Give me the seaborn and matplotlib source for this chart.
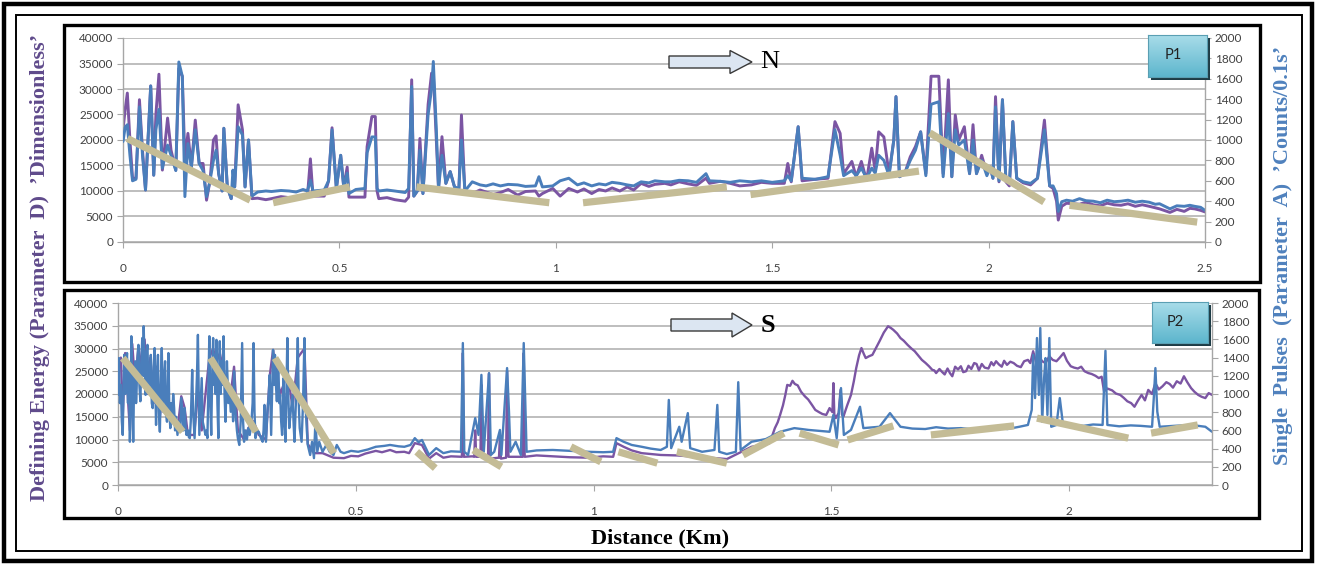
import matplotlib
matplotlib.use("Agg")
import matplotlib.pyplot as plt
import seaborn as sns
import numpy as np
from matplotlib.patches import Rectangle, Polygon
from matplotlib.colors import LinearSegmentedColormap

# ---------------- data ----------------
# Panel P1 (top): distance (km), Parameter D (left axis), Parameter A counts (right axis)
p1_km = [0.000, 0.005, 0.010, 0.016, 0.022, 0.030, 0.038, 0.045, 0.052, 0.064, 0.071, 0.076, 0.083, 0.091,
         0.103, 0.111, 0.122, 0.129, 0.137, 0.143, 0.150, 0.158, 0.167, 0.176, 0.185, 0.193, 0.201, 0.209,
         0.215, 0.221, 0.229, 0.233, 0.241, 0.250, 0.254, 0.258, 0.266, 0.276, 0.282, 0.290, 0.298, 0.311,
         0.330, 0.343, 0.365, 0.384, 0.400, 0.416, 0.426, 0.433, 0.439, 0.465, 0.475, 0.483, 0.493, 0.503,
         0.510, 0.518, 0.522, 0.538, 0.559, 0.564, 0.575, 0.583, 0.587, 0.591, 0.610, 0.628, 0.652, 0.660,
         0.667, 0.672, 0.680, 0.686, 0.693, 0.705, 0.713, 0.717, 0.724, 0.729, 0.737, 0.746, 0.756, 0.766,
         0.776, 0.782, 0.790, 0.807, 0.825, 0.839, 0.855, 0.872, 0.890, 0.912, 0.930, 0.953, 0.961, 0.969,
         0.993, 1.010, 1.030, 1.050, 1.065, 1.083, 1.100, 1.115, 1.130, 1.148, 1.165, 1.180, 1.197, 1.215,
         1.229, 1.252, 1.266, 1.285, 1.306, 1.325, 1.347, 1.355, 1.380, 1.403, 1.425, 1.452, 1.475, 1.500,
         1.528, 1.536, 1.544, 1.560, 1.569, 1.600, 1.629, 1.645, 1.657, 1.665, 1.684, 1.694, 1.706, 1.718,
         1.730, 1.738, 1.746, 1.758, 1.770, 1.781, 1.786, 1.794, 1.806, 1.819, 1.831, 1.843, 1.855, 1.867,
         1.885, 1.895, 1.907, 1.915, 1.923, 1.931, 1.944, 1.956, 1.964, 1.972, 1.984, 1.996, 2.004, 2.010,
         2.016, 2.024, 2.032, 2.040, 2.048, 2.056, 2.065, 2.080, 2.097, 2.113, 2.129, 2.141, 2.149, 2.157,
         2.161, 2.169, 2.180, 2.194, 2.210, 2.225, 2.242, 2.258, 2.274, 2.290, 2.306, 2.322, 2.339, 2.355,
         2.371, 2.385, 2.395, 2.419, 2.435, 2.452, 2.465, 2.476, 2.490, 2.500]
p1_param_d = [22000, 26000, 29200, 20000, 12500, 12500, 27900, 18000, 10200, 30600, 13100, 25000, 32900, 14100,
              24300, 18000, 14100, 34000, 32500, 16000, 21300, 14700, 23900, 15400, 15400, 8200, 12000, 20000,
              20800, 13400, 10000, 22300, 10800, 8500, 12000, 10800, 26900, 22000, 10800, 20000, 8500, 8600,
              8300, 8500, 8900, 8700, 8400, 8700, 8800, 16300, 9000, 9000, 12000, 22400, 10500, 17000,
              10800, 14700, 8800, 8800, 8800, 18700, 24600, 24600, 10000, 8500, 8700, 8300, 8000, 8800,
              31800, 9000, 10000, 20300, 9500, 27000, 33100, 33000, 20000, 10500, 20650, 11500, 13800, 10800,
              10000, 24900, 9800, 9500, 10200, 9800, 9300, 9700, 10300, 9200, 9900, 10000, 9000, 9500,
              10500, 9000, 10500, 9800, 10400, 9500, 10300, 10000, 10600, 10000, 10800, 10200, 11500, 10900,
              11300, 11500, 11200, 11800, 11400, 11100, 12500, 11500, 11900, 11500, 11000, 11200, 11700, 11500,
              11500, 15400, 11800, 22600, 12000, 12300, 12500, 23600, 21300, 13400, 15800, 12800, 15800, 12100,
              18400, 14000, 21600, 20600, 13400, 20000, 28500, 12800, 13400, 16700, 18700, 21600, 13400, 32500,
              32500, 13400, 31800, 12800, 24900, 20000, 22600, 13400, 23000, 13400, 17000, 13400, 14700, 12500,
              28500, 11800, 27900, 11800, 11000, 23600, 12500, 11600, 11200, 12500, 23900, 11000, 10500, 8000,
              4300, 7000, 7600, 7500, 7400, 7800, 7300, 7100, 7600, 7300, 7200, 7500, 7000, 7300,
              7000, 6700, 6500, 5800, 6400, 6000, 6600, 6500, 6200, 5900]
p1_param_a = [985, 1125, 1150, 850, 600, 615, 1325, 850, 510, 1530, 655, 1100, 1300, 725,
              950, 850, 700, 1765, 1625, 445, 965, 735, 1100, 770, 700, 445, 600, 800,
              900, 670, 500, 1115, 540, 425, 705, 540, 1130, 1050, 540, 1000, 450, 490,
              500, 495, 505, 500, 490, 515, 500, 605, 500, 510, 600, 1100, 525, 850,
              540, 675, 475, 515, 525, 875, 1030, 1030, 525, 500, 510, 500, 485, 525,
              1525, 450, 500, 900, 475, 1250, 1500, 1770, 1100, 525, 850, 575, 690, 540,
              525, 1000, 500, 590, 560, 550, 570, 550, 565, 560, 545, 550, 640, 540,
              550, 600, 625, 560, 580, 550, 570, 560, 585, 575, 560, 550, 590, 580,
              600, 590, 590, 605, 600, 585, 670, 600, 595, 585, 600, 590, 600, 585,
              600, 650, 600, 1130, 625, 615, 640, 1100, 850, 650, 700, 650, 725, 625,
              725, 675, 850, 800, 650, 1000, 1425, 640, 670, 800, 900, 1080, 650, 1350,
              1375, 640, 1260, 640, 1100, 950, 1000, 670, 1000, 670, 800, 650, 735, 625,
              1325, 600, 1395, 600, 575, 1180, 625, 590, 575, 625, 1100, 550, 550, 475,
              300, 395, 410, 400, 425, 405, 400, 385, 410, 395, 400, 410, 390, 400,
              390, 370, 375, 325, 355, 350, 360, 350, 340, 310]

# Panel P2 (bottom): Parameter D (left axis)
p2_d_km = [0.000, 0.006, 0.010, 0.015, 0.025, 0.030, 0.036, 0.043, 0.050, 0.056, 0.062, 0.068, 0.075, 0.080,
           0.088, 0.095, 0.103, 0.110, 0.118, 0.125, 0.133, 0.140, 0.147, 0.160, 0.168, 0.176, 0.192, 0.200,
           0.207, 0.214, 0.222, 0.229, 0.237, 0.244, 0.252, 0.265, 0.274, 0.285, 0.296, 0.311, 0.319, 0.326,
           0.334, 0.341, 0.348, 0.356, 0.367, 0.378, 0.392, 0.399, 0.412, 0.430, 0.453, 0.475, 0.490, 0.505,
           0.520, 0.542, 0.555, 0.572, 0.585, 0.602, 0.612, 0.624, 0.639, 0.654, 0.669, 0.684, 0.700, 0.721,
           0.723, 0.725, 0.727, 0.745, 0.749, 0.751, 0.753, 0.762, 0.764, 0.766, 0.778, 0.780, 0.782, 0.801,
           0.803, 0.805, 0.816, 0.818, 0.821, 0.851, 0.853, 0.855, 0.880, 0.914, 0.950, 0.989, 1.020, 1.041,
           1.048, 1.063, 1.080, 1.101, 1.120, 1.141, 1.175, 1.213, 1.245, 1.280, 1.305, 1.332, 1.355, 1.370,
           1.381, 1.387, 1.392, 1.398, 1.403, 1.407, 1.413, 1.418, 1.423, 1.429, 1.436, 1.444, 1.451, 1.459,
           1.466, 1.474, 1.481, 1.489, 1.496, 1.502, 1.504, 1.506, 1.509, 1.515, 1.519, 1.522, 1.525, 1.533,
           1.541, 1.547, 1.552, 1.558, 1.563, 1.568, 1.572, 1.579, 1.586, 1.594, 1.601, 1.610, 1.619, 1.625,
           1.630, 1.638, 1.645, 1.652, 1.660, 1.668, 1.675, 1.683, 1.690, 1.698, 1.705, 1.712, 1.716, 1.720,
           1.727, 1.733, 1.738, 1.744, 1.749, 1.754, 1.760, 1.766, 1.772, 1.777, 1.783, 1.788, 1.794, 1.800,
           1.805, 1.810, 1.816, 1.822, 1.830, 1.836, 1.841, 1.846, 1.852, 1.858, 1.863, 1.869, 1.876, 1.883,
           1.890, 1.898, 1.905, 1.913, 1.918, 1.924, 1.930, 1.936, 1.943, 1.950, 1.958, 1.965, 1.973, 1.980,
           1.988, 1.995, 2.003, 2.010, 2.018, 2.025, 2.032, 2.040, 2.047, 2.055, 2.062, 2.068, 2.073, 2.080,
           2.090, 2.098, 2.107, 2.114, 2.122, 2.130, 2.137, 2.144, 2.152, 2.159, 2.166, 2.174, 2.181, 2.188,
           2.196, 2.204, 2.211, 2.218, 2.226, 2.234, 2.241, 2.248, 2.256, 2.263, 2.271, 2.278, 2.286, 2.293,
           2.300]
p2_param_d = [27000, 28000, 15000, 29000, 12000, 31000, 22000, 30500, 25000, 32000, 20000, 28000, 18000, 26000,
              15000, 22000, 16000, 18000, 15000, 12000, 19500, 17000, 11000, 11000, 20000, 12000, 28000, 30000,
              27000, 29000, 25000, 22000, 20000, 26000, 12000, 10000, 12500, 14000, 11000, 10000, 24000, 29700,
              24000, 20000, 22000, 25000, 17000, 28000, 30000, 9000, 7000, 7000, 6000, 5900, 6400, 6300,
              6900, 7500, 7200, 7700, 7200, 7300, 7000, 9200, 8800, 5800, 7000, 6000, 6300, 6200,
              6200, 29000, 6200, 6300, 6200, 12000, 6200, 6200, 22000, 6000, 6000, 24500, 5800, 6000,
              11000, 5800, 6000, 25000, 6200, 6200, 29000, 6200, 6500, 6300, 6100, 6000, 6300, 6200,
              9200, 8400, 7600, 7000, 6800, 6600, 6500, 6200, 6000, 5700, 7000, 8400, 8800, 9200,
              12500, 13800, 15400, 17500, 19800, 22000, 21800, 22900, 22200, 21900, 20500, 19500, 18800, 17600,
              16500, 16000, 15600, 15400, 16900, 16000, 22400, 15500, 14700, 15800, 20900, 15500, 15000, 17500,
              19800, 22800, 25700, 28500, 30100, 28800, 27900, 28300, 28600, 30200, 31600, 33500, 34900, 34500,
              34100, 33300, 32300, 31700, 30800, 30000, 29400, 28400, 27500, 26800, 26100, 25300, 25200, 24600,
              25500, 24800, 24300, 25600, 24600, 23900, 26000, 25400, 26100, 24800, 25000, 26200, 25500, 26800,
              26600, 25200, 26600, 25800, 25600, 27000, 26300, 27200, 26500, 26000, 27300, 26400, 27100, 26800,
              26200, 25900, 27200, 27500, 26800, 29400, 27000, 28200, 27200, 26800, 28300, 27500, 27200, 28000,
              29000, 27300, 26100, 25800, 25600, 26000, 25000, 24600, 24400, 24000, 23500, 23800, 20600, 21200,
              20800, 20100, 19800, 19200, 18400, 18000, 17200, 18500, 19800, 18600, 20900, 20000, 22400, 21000,
              21700, 22600, 22200, 21400, 22800, 22300, 23900, 22600, 21300, 20500, 19800, 19400, 19100, 20200,
              19800]

# Panel P2 (bottom): Parameter A counts (right axis)
p2_a_km = [0.000, 0.002, 0.004, 0.006, 0.008, 0.010, 0.012, 0.013, 0.015, 0.017, 0.019, 0.021, 0.023, 0.025,
           0.027, 0.028, 0.030, 0.032, 0.034, 0.036, 0.038, 0.039, 0.041, 0.043, 0.045, 0.047, 0.049, 0.051,
           0.053, 0.054, 0.056, 0.058, 0.060, 0.062, 0.064, 0.066, 0.068, 0.069, 0.071, 0.073, 0.075, 0.077,
           0.079, 0.080, 0.082, 0.084, 0.086, 0.088, 0.090, 0.092, 0.094, 0.095, 0.097, 0.099, 0.101, 0.103,
           0.105, 0.106, 0.108, 0.110, 0.112, 0.114, 0.116, 0.118, 0.120, 0.122, 0.125, 0.128, 0.131, 0.133,
           0.136, 0.138, 0.140, 0.142, 0.144, 0.147, 0.149, 0.151, 0.153, 0.156, 0.158, 0.161, 0.164, 0.166,
           0.168, 0.170, 0.171, 0.173, 0.176, 0.178, 0.181, 0.184, 0.186, 0.188, 0.190, 0.192, 0.194, 0.196,
           0.198, 0.200, 0.202, 0.203, 0.205, 0.207, 0.209, 0.211, 0.212, 0.214, 0.216, 0.218, 0.220, 0.222,
           0.224, 0.226, 0.228, 0.229, 0.232, 0.234, 0.237, 0.240, 0.242, 0.244, 0.247, 0.250, 0.252, 0.255,
           0.258, 0.261, 0.263, 0.265, 0.268, 0.271, 0.274, 0.277, 0.280, 0.283, 0.285, 0.287, 0.289, 0.292,
           0.296, 0.300, 0.304, 0.306, 0.308, 0.310, 0.311, 0.314, 0.317, 0.319, 0.321, 0.322, 0.324, 0.326,
           0.328, 0.330, 0.332, 0.334, 0.336, 0.337, 0.339, 0.341, 0.343, 0.345, 0.347, 0.348, 0.350, 0.352,
           0.354, 0.356, 0.358, 0.360, 0.363, 0.367, 0.369, 0.371, 0.374, 0.376, 0.378, 0.380, 0.382, 0.384,
           0.386, 0.389, 0.392, 0.393, 0.395, 0.397, 0.399, 0.404, 0.408, 0.412, 0.415, 0.419, 0.423, 0.430,
           0.438, 0.445, 0.453, 0.460, 0.468, 0.475, 0.490, 0.505, 0.525, 0.542, 0.560, 0.572, 0.590, 0.602,
           0.615, 0.624, 0.632, 0.639, 0.654, 0.669, 0.684, 0.700, 0.721, 0.725, 0.728, 0.736, 0.751, 0.758,
           0.764, 0.769, 0.780, 0.784, 0.791, 0.803, 0.806, 0.818, 0.822, 0.825, 0.836, 0.847, 0.853, 0.859,
           0.880, 0.914, 0.950, 0.989, 1.020, 1.041, 1.048, 1.063, 1.080, 1.101, 1.120, 1.141, 1.154, 1.158,
           1.163, 1.180, 1.185, 1.198, 1.203, 1.228, 1.254, 1.260, 1.264, 1.280, 1.299, 1.304, 1.309, 1.332,
           1.362, 1.392, 1.422, 1.452, 1.496, 1.504, 1.511, 1.520, 1.526, 1.541, 1.560, 1.567, 1.601, 1.623,
           1.645, 1.670, 1.697, 1.720, 1.745, 1.772, 1.800, 1.825, 1.846, 1.870, 1.895, 1.913, 1.921, 1.924,
           1.928, 1.932, 1.936, 1.939, 1.943, 1.947, 1.950, 1.954, 1.958, 1.962, 1.973, 1.980, 1.986, 2.003,
           2.030, 2.050, 2.070, 2.076, 2.080, 2.105, 2.129, 2.150, 2.174, 2.178, 2.181, 2.185, 2.190, 2.220,
           2.256, 2.286, 2.300]
p2_param_a = [990, 1395, 900, 1100, 700, 550, 1200, 1430, 1000, 1300, 1450, 900, 1250, 475,
              1100, 1635, 1000, 475, 1200, 1360, 900, 1030, 1400, 1540, 1100, 920, 1350, 1615,
              1200, 1745, 1300, 990, 1450, 1540, 1000, 1140, 1300, 1430, 900, 845, 1300, 1505,
              900, 660, 1200, 1430, 800, 585, 1100, 1505, 900, 805, 1200, 1360, 800, 695,
              1100, 1450, 800, 625, 900, 700, 1000, 845, 600, 750, 550, 700, 600, 955,
              750, 600, 845, 650, 550, 600, 525, 515, 700, 1265, 800, 515, 900, 1200,
              1650, 900, 550, 800, 1175, 700, 625, 550, 600, 515, 1100, 1635, 900, 550,
              1200, 1615, 1100, 1430, 1000, 1595, 900, 515, 1100, 1580, 1000, 1360, 1100, 1635,
              1000, 695, 1100, 1360, 900, 1100, 805, 1000, 700, 1250, 800, 600, 515, 440,
              700, 1560, 700, 475, 600, 500, 625, 550, 650, 900, 1560, 800, 515, 600,
              585, 520, 475, 600, 880, 600, 475, 800, 1000, 1210, 800, 550, 1000, 1485,
              1100, 1430, 1100, 920, 1200, 1360, 900, 990, 700, 550, 900, 1175, 700, 475,
              1000, 1615, 1000, 625, 800, 990, 700, 475, 900, 1200, 1615, 900, 625, 550,
              475, 900, 1615, 1200, 805, 600, 440, 330, 475, 295, 695, 365, 475, 365,
              440, 365, 330, 440, 365, 350, 375, 365, 390, 420, 430, 440, 425, 420,
              440, 515, 470, 495, 330, 405, 350, 370, 365, 1560, 365, 330, 735, 550,
              1210, 365, 1230, 330, 365, 605, 330, 1285, 805, 365, 475, 330, 1560, 365,
              380, 385, 375, 365, 360, 365, 515, 475, 440, 420, 400, 385, 420, 935,
              405, 640, 475, 790, 405, 365, 385, 880, 365, 340, 365, 1130, 385, 475,
              505, 585, 625, 605, 585, 770, 515, 1065, 550, 605, 860, 625, 640, 790,
              640, 620, 615, 635, 620, 625, 610, 635, 630, 615, 640, 660, 825, 1430,
              955, 1615, 990, 1725, 695, 1175, 1395, 770, 1615, 640, 660, 955, 695, 660,
              650, 665, 660, 1475, 660, 645, 655, 650, 640, 990, 1285, 805, 640, 650,
              660, 640, 585]

# Tan trend segments, in Parameter D units: (km start, value start, km end, value end)
p1_trends = [(0.010, 20300, 0.294, 8200), (0.347, 7700, 0.524, 10800), (0.678, 10800, 0.985, 7700),
             (1.063, 7700, 1.395, 10800), (1.450, 9300, 1.839, 13900), (1.864, 21400, 2.128, 7850),
             (2.187, 7200, 2.482, 3900)]
p2_trends = [(0.010, 27900, 0.136, 11700), (0.194, 27900, 0.290, 11700), (0.330, 27900, 0.454, 7000),
             (0.628, 7300, 0.667, 3700), (0.747, 7700, 0.806, 4000), (0.952, 8400, 1.015, 5100),
             (1.052, 7300, 1.134, 4800), (1.175, 7300, 1.280, 4800), (1.314, 6600, 1.400, 11400),
             (1.433, 11400, 1.515, 8800), (1.534, 9900, 1.630, 13000), (1.709, 11000, 1.884, 13000),
             (1.932, 14700, 2.124, 10300), (2.172, 11400, 2.270, 13200)]

left_ticks = [0, 5000, 10000, 15000, 20000, 25000, 30000, 35000, 40000]
right_ticks = [0, 200, 400, 600, 800, 1000, 1200, 1400, 1600, 1800, 2000]
p1_xticks = [0, 0.5, 1, 1.5, 2, 2.5]
p2_xticks = [0, 0.5, 1, 1.5, 2]
p1_xlabels = ["0", "0.5", "1", "1.5", "2", "2.5"]
p2_xlabels = ["0", "0.5", "1", "1.5", "2"]

# ---------------- style ----------------
sns.set_style("white")
plt.rcParams['font.family'] = ['Lato', 'DejaVu Sans']

W, H = 1317, 566
PURPLE = '#7b55a3'
BLUE = '#4a7ebb'
TAN = '#c4bc96'
GRID = '#b9b9b9'
TICKC = '#404040'
SERIF = ['Liberation Serif', 'DejaVu Serif']

fig = plt.figure(figsize=(W / 100, H / 100), dpi=100)
fig.patch.set_facecolor('white')


def fx(px):
    return px / W


def fy(py):
    return 1 - py / H


def make_panel(rect_px, xmax, xticks, xlabels, d_km, d_val, a_km, a_val, trends, lw):
    x0, y0, x1, y1 = rect_px
    ax = fig.add_axes([fx(x0), fy(y1), (x1 - x0) / W, (y1 - y0) / H])
    sns.lineplot(x=d_km, y=d_val, ax=ax, color=PURPLE, linewidth=lw, estimator=None, sort=False, legend=False)
    ax.set_xlim(0, xmax)
    ax.set_ylim(0, 40000)
    ax.set_yticks(left_ticks)
    ax.set_yticklabels([str(t) for t in left_ticks])
    ax.set_xticks(xticks)
    ax.set_xticklabels(xlabels)
    ax.yaxis.grid(True, color=GRID, linewidth=1.3)
    ax.xaxis.grid(False)
    ax.set_axisbelow(True)
    ax.set_xlabel('')
    ax.set_ylabel('')
    for s in ['top', 'right']:
        ax.spines[s].set_visible(False)
    for s in ['left', 'bottom']:
        ax.spines[s].set_color('#a6a6a6')
        ax.spines[s].set_linewidth(1.0)
    ax.tick_params(axis='y', length=4, width=0.8, color='#a6a6a6', pad=3, labelsize=8.5, labelcolor=TICKC, left=True)
    ax.tick_params(axis='x', length=4, width=0.8, color='#a6a6a6', pad=11, labelsize=8.5, labelcolor=TICKC, bottom=True)

    ax2 = ax.twinx()
    sns.lineplot(x=a_km, y=a_val, ax=ax2, color=BLUE, linewidth=lw, estimator=None, sort=False, legend=False)
    ax2.set_ylim(0, 2000)
    ax2.set_xlim(0, xmax)
    ax2.set_yticks(right_ticks)
    ax2.set_yticklabels([str(t) for t in right_ticks])
    ax2.set_ylabel('')
    for s in ['top', 'left', 'bottom']:
        ax2.spines[s].set_visible(False)
    ax2.spines['right'].set_color('#a6a6a6')
    ax2.spines['right'].set_linewidth(1.0)
    ax2.tick_params(axis='y', length=4, width=0.8, color='#a6a6a6', pad=3, labelsize=8.5, labelcolor=TICKC, right=True)

    ax3 = ax.twinx()
    ax3.set_ylim(0, 40000)
    ax3.set_xlim(0, xmax)
    for (ka, va, kb, vb) in trends:
        sns.lineplot(x=[ka, kb], y=[va, vb], ax=ax3, color=TAN, linewidth=5.2, estimator=None,
                     sort=False, legend=False, solid_capstyle='butt')
    ax3.axis('off')
    return ax


make_panel((123, 38, 1205, 242), 2.5, p1_xticks, p1_xlabels, p1_km, p1_param_d, p1_km, p1_param_a,
           p1_trends, 2.1)
make_panel((118, 303, 1212, 485), 2.3, p2_xticks, p2_xlabels, p2_d_km, p2_param_d, p2_a_km, p2_param_a,
           p2_trends, 1.7)

# ---------------- frames ----------------
def frame(xa, ya, xb, yb, lw, color='black'):
    fig.patches.append(Rectangle((fx(xa), fy(yb)), (xb - xa) / W, (yb - ya) / H, fill=False,
                                 edgecolor=color, linewidth=lw, transform=fig.transFigure, zorder=5))

frame(4, 4, 1312, 561, 3.2)
frame(16, 15, 1302, 551, 1.4)
frame(64, 25, 1260, 282, 2.4)
frame(64, 290, 1259, 518, 2.4)

# ---------------- direction arrows ----------------
def block_arrow(xs, xb, xt, yc, body_h, head_h):
    pts = [(xs, yc - body_h / 2), (xb, yc - body_h / 2), (xb, yc - head_h / 2), (xt, yc),
           (xb, yc + head_h / 2), (xb, yc + body_h / 2), (xs, yc + body_h / 2)]
    fig.patches.append(Polygon([(fx(a), fy(b)) for a, b in pts], closed=True, facecolor='#dce6f2',
                               edgecolor='#3a3a3a', linewidth=1.0, transform=fig.transFigure, zorder=6))

block_arrow(669, 730, 752, 62, 12, 23)
fig.text(fx(760), fy(62), 'N', family=SERIF, fontsize=19, color='black', ha='left', va='center', zorder=7)
block_arrow(671, 732, 752, 325, 12, 24)
fig.text(fx(761), fy(326), 'S', family=SERIF, fontsize=19, fontweight='bold', color='black',
         ha='left', va='center', zorder=7)

# ---------------- P1 / P2 tags ----------------
cmap = LinearSegmentedColormap.from_list('teal', ['#a8dce9', '#5db6cd'])


def tag(xa, ya, xb, yb, label):
    fig.patches.append(Rectangle((fx(xa + 3), fy(yb + 3)), (xb - xa) / W, (yb - ya) / H,
                                 facecolor='#1e3c46', edgecolor='none', transform=fig.transFigure, zorder=8))
    tax = fig.add_axes([fx(xa), fy(yb), (xb - xa) / W, (yb - ya) / H], zorder=9)
    tax.imshow(np.linspace(0, 1, 50).reshape(-1, 1), aspect='auto', cmap=cmap, extent=(0, 1, 0, 1))
    tax.set_xticks([])
    tax.set_yticks([])
    for s in tax.spines.values():
        s.set_color('#5a9fb3')
        s.set_linewidth(0.8)
    tax.text(0.42, 0.52, label, transform=tax.transAxes, ha='center', va='center', fontsize=10.5,
             color='#222222', family=['Lato', 'DejaVu Sans'])

tag(1148, 35, 1207, 77, 'P1')
tag(1152, 302, 1208, 343, 'P2')

# ---------------- axis titles ----------------
fig.text(fx(40), fy(267), "Defining Energy (Parameter  D)  \u2019Dimensionless\u2019", rotation=90,
         family=SERIF, fontsize=16, fontweight='bold', color='#5f4a8b', ha='center', va='center')
fig.text(fx(1283), fy(255), "Single  Pulses  (Parameter  A)  \u2019Counts/0.1s\u2019", rotation=90,
         family=SERIF, fontsize=16, fontweight='bold', color='#4f81bd', ha='center', va='center')
fig.text(fx(660), fy(538), 'Distance (Km)', family=SERIF, fontsize=16, fontweight='bold',
         color='black', ha='center', va='center')

fig.savefig('out.png', dpi=100, facecolor='white')
